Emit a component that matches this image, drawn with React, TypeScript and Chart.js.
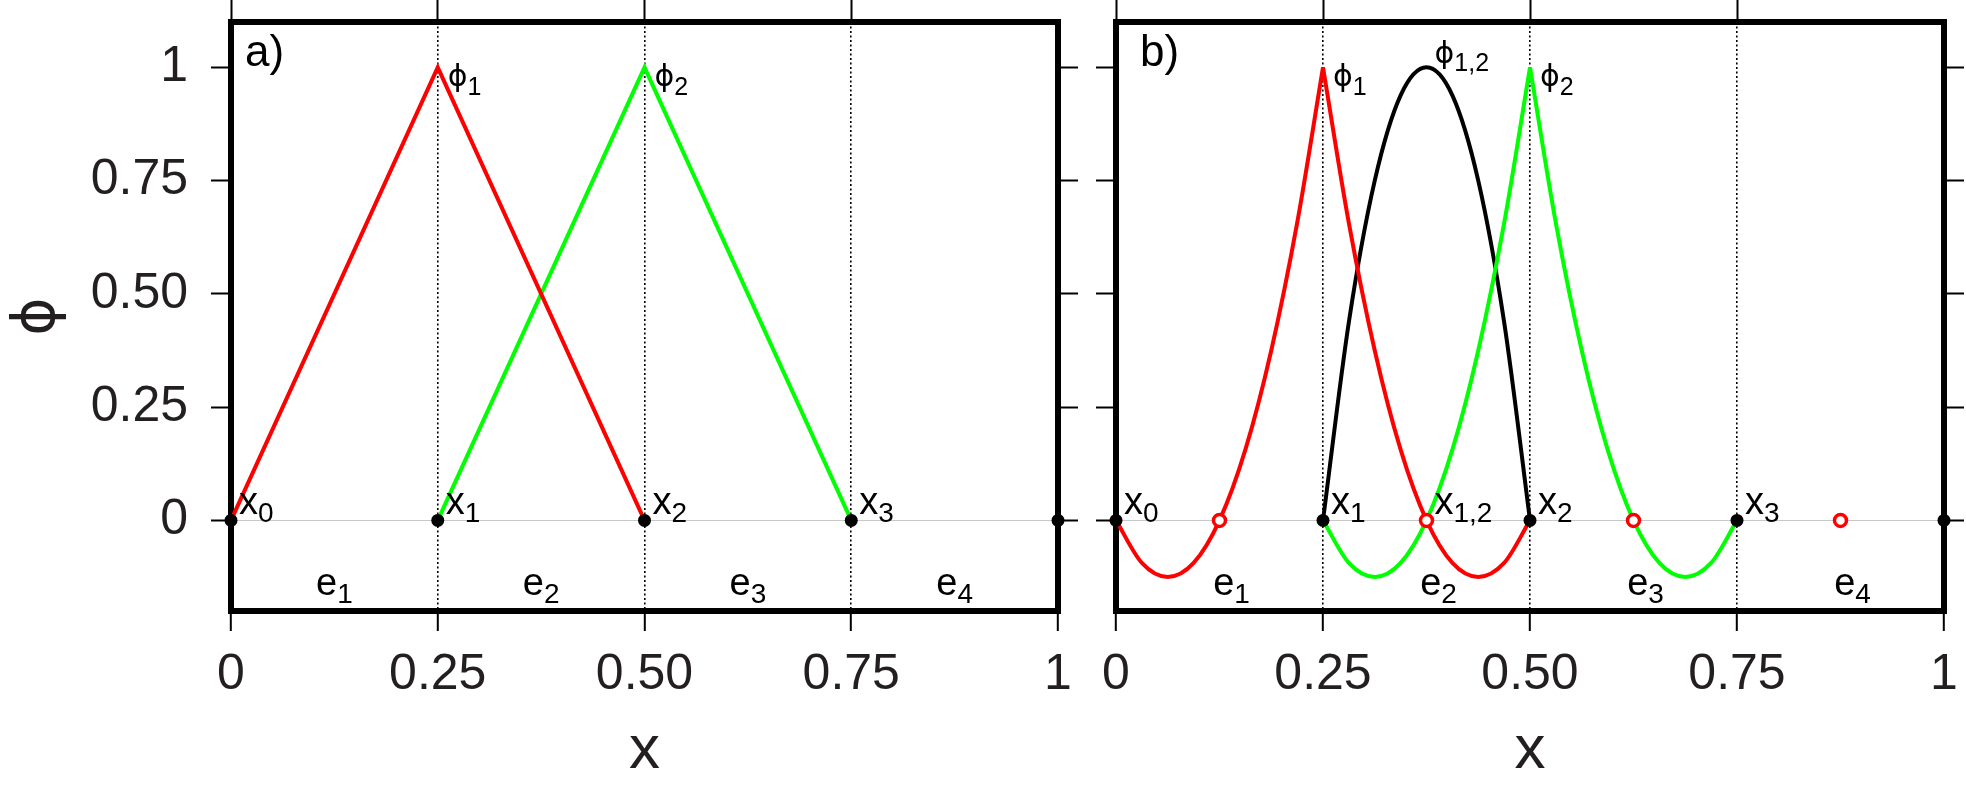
import React, { useEffect, useRef } from 'react';
import { Chart, registerables } from 'chart.js';

Chart.register(...registerables);

// ---------- data ----------
const X_TICKS = [0, 0.25, 0.5, 0.75, 1];
const X_TICK_LABELS = ['0', '0.25', '0.50', '0.75', '1'];
const Y_TICKS = [0, 0.25, 0.5, 0.75, 1];
const Y_TICK_LABELS = ['0', '0.25', '0.50', '0.75', '1'];
const X_MIN = 0;
const X_MAX = 1;
const Y_MIN = -0.2;
const Y_MAX = 1.1;

const NODE_X = [0, 0.25, 0.5, 0.75, 1];
const NODE_Y = [0, 0, 0, 0, 0];
const MID_X = [0.125, 0.375, 0.625, 0.875];
const MID_Y = [0, 0, 0, 0];

// panel a: linear hat functions
const A_PHI1_X = [0, 0.25, 0.5];
const A_PHI1_Y = [0, 1, 0];
const A_PHI2_X = [0.25, 0.5, 0.75];
const A_PHI2_Y = [0, 1, 0];

// panel b: quadratic basis functions, values read along each element
const E1_X = [0, 0.03125, 0.0625, 0.09375, 0.125, 0.15625, 0.1875, 0.21875, 0.25];
const E2_X = [0.25, 0.28125, 0.3125, 0.34375, 0.375, 0.40625, 0.4375, 0.46875, 0.5];
const E3_X = [0.5, 0.53125, 0.5625, 0.59375, 0.625, 0.65625, 0.6875, 0.71875, 0.75];
const B_PHI1_E1 = [0, -0.094, -0.125, -0.094, 0, 0.156, 0.375, 0.656, 1];
const B_PHI1_E2 = [1, 0.656, 0.375, 0.156, 0, -0.094, -0.125, -0.094, 0];
const B_PHI2_E2 = [0, -0.094, -0.125, -0.094, 0, 0.156, 0.375, 0.656, 1];
const B_PHI2_E3 = [1, 0.656, 0.375, 0.156, 0, -0.094, -0.125, -0.094, 0];
const B_PHI12_E2 = [0, 0.438, 0.75, 0.938, 1, 0.938, 0.75, 0.438, 0];

// annotation texts and anchors
const A_NODE_LABEL_X = [0, 0.25, 0.5, 0.75];
const A_NODE_LABEL_SUB = ['0', '1', '2', '3'];
const B_NODE_LABEL_X = [0, 0.25, 0.375, 0.5, 0.75];
const B_NODE_LABEL_SUB = ['0', '1', '1,2', '2', '3'];
const ELEM_LABEL_X = [0.125, 0.375, 0.625, 0.875];
const ELEM_LABEL_SUB = ['1', '2', '3', '4'];
const ELEM_LABEL_Y = -0.165;
const A_PEAK_X = [0.25, 0.5];
const A_PEAK_SUB = ['1', '2'];
const B_PEAK_X = [0.25, 0.375, 0.5];
const B_PEAK_SUB = ['1', '1,2', '2'];
const B_PEAK_ABOVE = [false, true, false];
const PHI = 'ϕ';

// ---------- styles ----------
const FONT = '"Liberation Sans", Arial, Helvetica, sans-serif';
const PHI_FONT = '"DejaVu Sans", "Liberation Sans", sans-serif';
const TEXT = '#231f20';
const RED = '#ff0000';
const GREEN = '#00ff00';
const H = 803;

const pts = (xs: number[], ys: number[]) => xs.map((x, i) => ({ x, y: ys[i] }));

function drawSubText(ctx: CanvasRenderingContext2D, x: number, y: number, main: string, sub: string,
  mainFont: string, subSize: number, drop: number, center: boolean) {
  ctx.font = mainFont;
  const mw = ctx.measureText(main).width;
  ctx.font = `${subSize}px ${FONT}`;
  const sw = ctx.measureText(sub).width;
  const x0 = center ? x - (mw + sw) / 2 : x;
  ctx.textAlign = 'left';
  ctx.textBaseline = 'alphabetic';
  ctx.font = mainFont;
  ctx.fillText(main, x0, y);
  ctx.font = `${subSize}px ${FONT}`;
  ctx.fillText(sub, x0 + mw, y + drop);
}

function makeConfig(panel: 'a' | 'b'): any {
  const isA = panel === 'a';

  const framePlugin = {
    id: 'frame' + panel,
    beforeDatasetsDraw(chart: any) {
      const { ctx, chartArea: a } = chart;
      ctx.save();
      ctx.strokeStyle = '#000';
      ctx.lineWidth = 6;
      ctx.strokeRect(a.left, a.top, a.right - a.left, a.bottom - a.top);
      ctx.restore();
    },
  };

  const labelPlugin = {
    id: 'labels' + panel,
    afterDatasetsDraw(chart: any) {
      const { ctx, chartArea: a, scales } = chart;
      const xs = scales.x;
      const ys = scales.y;
      ctx.save();
      ctx.fillStyle = '#000';
      // panel tag
      ctx.font = `44px ${FONT}`;
      ctx.textAlign = 'left';
      ctx.textBaseline = 'alphabetic';
      ctx.fillText(isA ? 'a)' : 'b)', a.left + (isA ? 14 : 24), a.top + 44);
      const letter = `38px ${FONT}`;
      // node labels
      const nx = isA ? A_NODE_LABEL_X : B_NODE_LABEL_X;
      const ns = isA ? A_NODE_LABEL_SUB : B_NODE_LABEL_SUB;
      nx.forEach((v, i) => {
        const px = xs.getPixelForValue(v);
        const py = ys.getPixelForValue(0);
        drawSubText(ctx, px + 8, py - 6, 'x', ns[i], letter, 28, 8, false);
      });
      // element labels
      ELEM_LABEL_X.forEach((v, i) => {
        const px = xs.getPixelForValue(v) + (isA ? 0 : 12);
        const py = ys.getPixelForValue(ELEM_LABEL_Y);
        drawSubText(ctx, px, py, 'e', ELEM_LABEL_SUB[i], letter, 28, 8, true);
      });
      // peak labels
      const kx = isA ? A_PEAK_X : B_PEAK_X;
      const ks = isA ? A_PEAK_SUB : B_PEAK_SUB;
      const phiFont = `30px ${PHI_FONT}`;
      kx.forEach((v, i) => {
        const px = xs.getPixelForValue(v);
        const py = ys.getPixelForValue(1);
        const above = !isA && B_PEAK_ABOVE[i];
        if (above) drawSubText(ctx, px + 8, py - 4, PHI, ks[i], phiFont, 25, 8, false);
        else drawSubText(ctx, px + 10, py + 19, PHI, ks[i], phiFont, 25, 9, false);
      });
      ctx.restore();
    },
  };

  const nodeSet = {
    data: pts(NODE_X, NODE_Y), showLine: false, pointRadius: 6.5, pointHoverRadius: 6.5,
    pointBackgroundColor: '#000', pointBorderWidth: 0, order: 0, clip: false,
  };
  const line = (data: any, color: string, order: number) => ({
    data, showLine: true, borderColor: color, borderWidth: 4, pointRadius: 0, pointHoverRadius: 0,
    order, clip: false, cubicInterpolationMode: isA ? 'default' : 'monotone', tension: 0,
  });

  const datasets = isA
    ? [
        nodeSet,
        line(pts(A_PHI1_X, A_PHI1_Y), RED, 2),
        line(pts(A_PHI2_X, A_PHI2_Y), GREEN, 3),
      ]
    : [
        nodeSet,
        {
          data: pts(MID_X, MID_Y), showLine: false, pointRadius: 6, pointHoverRadius: 6,
          pointBackgroundColor: '#fff', pointBorderColor: RED, pointBorderWidth: 3.5, order: 1, clip: false,
        },
        line(pts(E1_X, B_PHI1_E1), RED, 2),
        line(pts(E2_X, B_PHI1_E2), RED, 2),
        line(pts(E2_X, B_PHI2_E2), GREEN, 3),
        line(pts(E3_X, B_PHI2_E3), GREEN, 3),
        line(pts(E2_X, B_PHI12_E2), '#000', 4),
      ];

  const tickFont = { family: FONT, size: 50 };
  const noPadX = (s: any) => { s.paddingLeft = 0; s.paddingRight = 0; };
  const noPadY = (s: any) => { s.paddingTop = 0; s.paddingBottom = 0; };

  return {
    type: 'scatter',
    data: { datasets },
    plugins: [framePlugin, labelPlugin],
    options: {
      animation: false,
      responsive: false,
      devicePixelRatio: 1,
      events: [],
      layout: { padding: 0 },
      plugins: { legend: { display: false }, tooltip: { enabled: false } },
      scales: {
        x: {
          type: 'linear', position: 'bottom', min: X_MIN, max: X_MAX,
          afterBuildTicks: (s: any) => { s.ticks = X_TICKS.map((v) => ({ value: v })); },
          afterFit: (s: any) => { s.height = 192; noPadX(s); },
          ticks: {
            callback: (_v: any, i: number) => X_TICK_LABELS[i], font: tickFont, color: TEXT,
            padding: 14, maxRotation: 0, autoSkip: false,
          },
          grid: {
            drawOnChartArea: true, lineWidth: 1.6, tickLength: 20, tickColor: '#000', tickWidth: 2,
            color: (c: any) => (c.tick && c.tick.value > 0 && c.tick.value < 1 ? '#000' : 'rgba(0,0,0,0)'),
          },
          border: { display: false, dash: [2, 2.5] },
          title: { display: true, text: 'x', font: { family: FONT, size: 62 }, color: TEXT, padding: { top: 0, bottom: 15 } },
        },
        x2: {
          type: 'linear', position: 'top', min: X_MIN, max: X_MAX,
          afterBuildTicks: (s: any) => { s.ticks = X_TICKS.filter((v) => v < 1).map((v) => ({ value: v })); },
          afterFit: (s: any) => { s.height = 22; noPadX(s); },
          ticks: { display: false },
          grid: { drawOnChartArea: false, tickLength: 22, tickColor: '#000', tickWidth: 2 },
          border: { display: false },
        },
        y: {
          type: 'linear', position: 'left', min: Y_MIN, max: Y_MAX,
          afterBuildTicks: (s: any) => { s.ticks = Y_TICKS.map((v) => ({ value: v })); },
          afterFit: (s: any) => { s.width = isA ? 231 : 29; noPadY(s); },
          ticks: {
            display: isA, callback: (_v: any, i: number) => Y_TICK_LABELS[i], font: tickFont, color: TEXT,
            padding: 23, autoSkip: false,
          },
          grid: {
            drawOnChartArea: true, lineWidth: 1, tickLength: 20, tickColor: '#000', tickWidth: 2,
            color: (c: any) => (c.tick && c.tick.value === 0 ? '#c8c8c8' : 'rgba(0,0,0,0)'),
          },
          border: { display: false },
          title: { display: isA, text: PHI, font: { family: PHI_FONT, size: 58 }, color: TEXT, padding: { top: 4, bottom: 0 } },
        },
        y2: {
          type: 'linear', position: 'right', min: Y_MIN, max: Y_MAX,
          afterBuildTicks: (s: any) => { s.ticks = Y_TICKS.map((v) => ({ value: v })); },
          afterFit: (s: any) => { s.width = isA ? 29 : 22; noPadY(s); },
          ticks: { display: false },
          grid: { drawOnChartArea: false, tickLength: 20, tickColor: '#000', tickWidth: 2 },
          border: { display: false },
        },
      },
    },
  };
}

function Panel({ panel, left, width }: { panel: 'a' | 'b'; left: number; width: number }) {
  const ref = useRef<HTMLCanvasElement>(null);
  useEffect(() => {
    const chart = new Chart(ref.current as HTMLCanvasElement, makeConfig(panel));
    return () => chart.destroy();
  }, [panel]);
  return (
    <canvas
      ref={ref}
      width={width}
      height={H}
      style={{ position: 'absolute', left, top: 0, width, height: H, display: 'block' }}
    />
  );
}

export default function App() {
  return (
    <div style={{ position: 'fixed', left: 0, top: 0, width: 1966, height: H, background: '#fff' }}>
      <Panel panel="a" left={0} width={1087} />
      <Panel panel="b" left={1087} width={879} />
    </div>
  );
}
